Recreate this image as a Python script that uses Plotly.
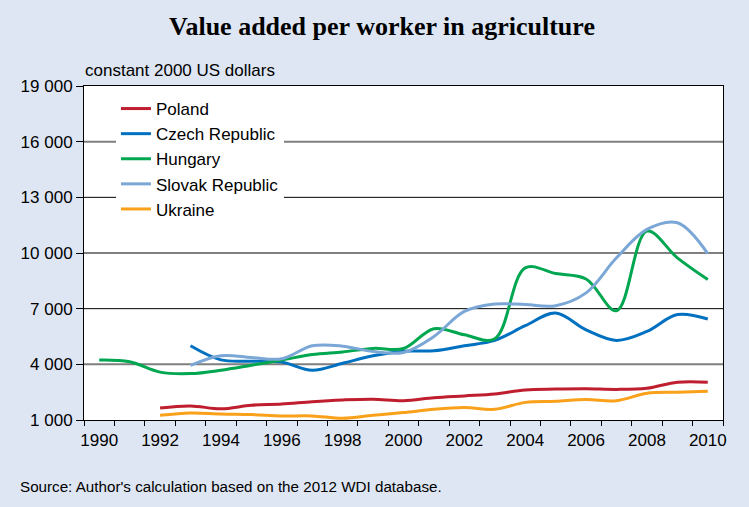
import plotly.graph_objects as go

# Data (constant 2000 US dollars)
years = list(range(1990, 2011))

poland = [None, None, 1650, 1760, 1600, 1800, 1860, 1990, 2080, 2120, 2040,
          2200, 2300, 2400, 2620, 2670, 2690, 2650, 2710, 3040, 3040]
czech = [None, None, None, 5000, 4240, 4170, 4120, 3680, 4060, 4460, 4710,
         4730, 5000, 5290, 6080, 6770, 5860, 5290, 5770, 6680, 6440]
hungary = [4230, 4140, 3580, 3500, 3680, 3950, 4230, 4530, 4670, 4860, 4850,
           5920, 5590, 5380, 9200, 8890, 8600, 6890, 11180, 9740, 8570]
slovak = [None, None, None, 3940, 4460, 4370, 4300, 5000, 4980, 4690, 4640,
          5500, 6850, 7250, 7220, 7160, 7850, 9740, 11270, 11630, 9970]
ukraine = [None, None, 1250, 1380, 1320, 1290, 1220, 1220, 1090, 1250, 1400,
           1580, 1670, 1580, 1950, 2010, 2100, 2040, 2440, 2500, 2550]

series_names = ["Poland", "Czech Republic", "Hungary", "Slovak Republic", "Ukraine"]
series_values = [poland, czech, hungary, slovak, ukraine]
colors = ["#BE1E2D", "#0070C0", "#00A650", "#7BA7D7", "#F9A11B"]

y_ticks = [1000, 4000, 7000, 10000, 13000, 16000, 19000]
y_labels = ["1 000", "4 000", "7 000", "10 000", "13 000", "16 000", "19 000"]

fig = go.Figure()
for name, vals, col in zip(series_names, series_values, colors):
    fig.add_trace(go.Scatter(x=years, y=vals, name=name, mode="lines",
                             line=dict(color=col, width=3, shape="spline"),
                             connectgaps=False))

# gridlines (alternating dark grey / black, as rendered in the original)
for v in y_ticks[1:-1]:
    dark = v in (7000, 13000)
    fig.add_shape(type="line", xref="paper", x0=0, x1=1, yref="y", y0=v, y1=v,
                  line=dict(color="#000000" if dark else "#7F7F7F",
                            width=1 if dark else 2),
                  layer="below")

font = "Liberation Sans, Arial, sans-serif"

fig.update_layout(
    width=749, height=507,
    paper_bgcolor="#DEE6F3",
    plot_bgcolor="#FFFFFF",
    margin=dict(l=84, r=26, t=86, b=87),
    font=dict(family=font, size=17, color="#000000"),
    title=dict(text="<b>Value added per worker in agriculture</b>",
               font=dict(family="Liberation Serif, Times New Roman, serif", size=26),
               x=0.51, xanchor="center", y=0.949, yanchor="middle"),
    showlegend=True,
    legend=dict(x=0.05, y=0.985, xanchor="left", yanchor="top",
                bgcolor="#FFFFFF", borderwidth=0,
                font=dict(family=font, size=17)),
    annotations=[
        dict(text="constant 2000 US dollars", xref="paper", yref="paper",
             x=-0.002, y=1.045, xanchor="left", yanchor="middle", showarrow=False,
             font=dict(family=font, size=17)),
        dict(text="Source: Author's calculation based on the 2012 WDI database.",
             xref="paper", yref="paper", x=-0.104, y=-0.2, xanchor="left",
             yanchor="middle", showarrow=False, font=dict(family=font, size=15.2)),
    ],
)

fig.update_xaxes(
    range=[1989.5, 2010.5], tick0=1990, dtick=2,
    ticks="outside", ticklen=5, tickcolor="rgba(0,0,0,0)",
    minor=dict(tick0=1989.5, dtick=1, ticks="outside", ticklen=5,
               tickcolor="#000000", showgrid=False),
    showgrid=False, zeroline=False,
    showline=True, linecolor="#000000", linewidth=1, mirror=True,
    tickfont=dict(family=font, size=17),
)
fig.update_yaxes(
    range=[1000, 19000], tickvals=y_ticks, ticktext=y_labels,
    ticks="outside", ticklen=7, tickcolor="#000000",
    showgrid=False, zeroline=False,
    showline=True, linecolor="#000000", linewidth=1, mirror=True,
    tickfont=dict(family=font, size=17),
)

fig.write_html("out.html", config={"displayModeBar": False},
               post_script="document.body.style.margin='0';")
